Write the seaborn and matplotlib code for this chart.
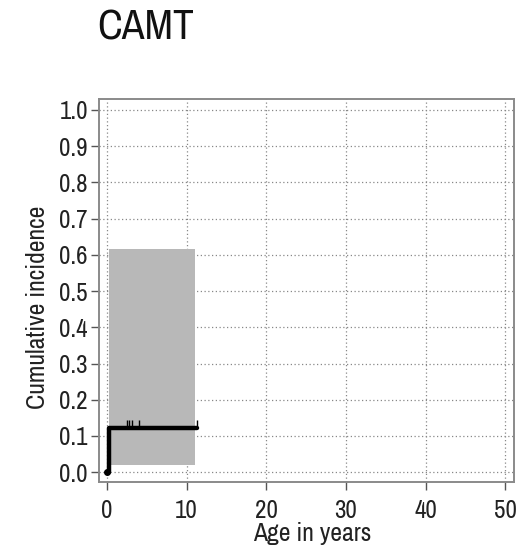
import matplotlib
matplotlib.use("Agg")
import matplotlib.pyplot as plt
import seaborn as sns
import pandas as pd
from matplotlib import font_manager

# ---- data ----
step_times = [0.0, 0.3, 11.3]
step_cuminc = [0.0, 0.122, 0.122]
band_times = [0.25, 11.0]
band_lower = [0.019, 0.019]
band_upper = [0.615, 0.615]
censor_times = [2.5, 2.8, 3.1, 4.0, 11.3]
censor_cuminc = [0.122, 0.122, 0.122, 0.122, 0.122]
x_ticks = [0, 10, 20, 30, 40, 50]
y_ticks = [0.0, 0.1, 0.2, 0.3, 0.4, 0.5, 0.6, 0.7, 0.8, 0.9, 1.0]
title = "CAMT"
xlabel = "Age in years"
ylabel = "Cumulative incidence"

sns.set_theme(style="white")
names = {f.name for f in font_manager.fontManager.ttflist}
if "Archivo Narrow" in names:
    plt.rcParams["font.family"] = ["Archivo Narrow", "DejaVu Sans"]
    tick_fs, lab_fs = 18, 18.5
else:
    plt.rcParams["font.family"] = ["DejaVu Sans"]
    plt.rcParams["font.stretch"] = "condensed"
    tick_fs, lab_fs = 14, 15

fig = plt.figure(figsize=(5.17, 5.49), dpi=100)
ax = fig.add_axes([99/517, 1-482/549, (514-99)/517, (482-99)/549])

ax.fill_between(band_times, band_lower, band_upper, step="post",
                color="#b8b8b8", linewidth=0, zorder=2)

df = pd.DataFrame({"t": step_times, "ci": step_cuminc})
sns.lineplot(data=df, x="t", y="ci", drawstyle="steps-post", estimator=None,
             sort=False, color="black", linewidth=3.2, ax=ax, zorder=4)
ax.plot([step_times[0]], [step_cuminc[0]], "o", color="black", ms=4, zorder=5)
ax.scatter(censor_times, [c + 0.012 for c in censor_cuminc], marker="|", s=40,
           color="black", linewidths=1.0, zorder=5)

ax.set_xlim(-1.0, 51.1)
ax.set_ylim(-0.027, 1.03)
ax.set_xticks(x_ticks)
ax.set_yticks(y_ticks)
ax.set_yticklabels([f"{v:.1f}" for v in y_ticks])
ax.grid(True, linestyle=(0, (1, 2)), color="#888888", linewidth=0.9, zorder=1)
ax.set_axisbelow(True)
for s in ax.spines.values():
    s.set_color("#8a8a8a")
    s.set_linewidth(1.4)
ax.tick_params(axis="both", direction="out", length=6, width=1.0,
               color="#555555", labelsize=tick_fs, labelcolor="#222222",
               left=True, bottom=True)
ax.tick_params(axis="x", pad=6)
ax.tick_params(axis="y", pad=2)
ax.set_xlabel(xlabel, fontsize=lab_fs, color="#222222")
ax.set_ylabel(ylabel, fontsize=lab_fs, color="#222222")
ax.xaxis.set_label_coords(0.513, -0.104)
ax.yaxis.set_label_coords(-0.147, 0.457)
ax.yaxis.label.set_va("center")

fig.text(97/517, 1-27/549, title, fontsize=30, ha="left", va="center", color="#111111")

fig.savefig("out.png", dpi=100)
